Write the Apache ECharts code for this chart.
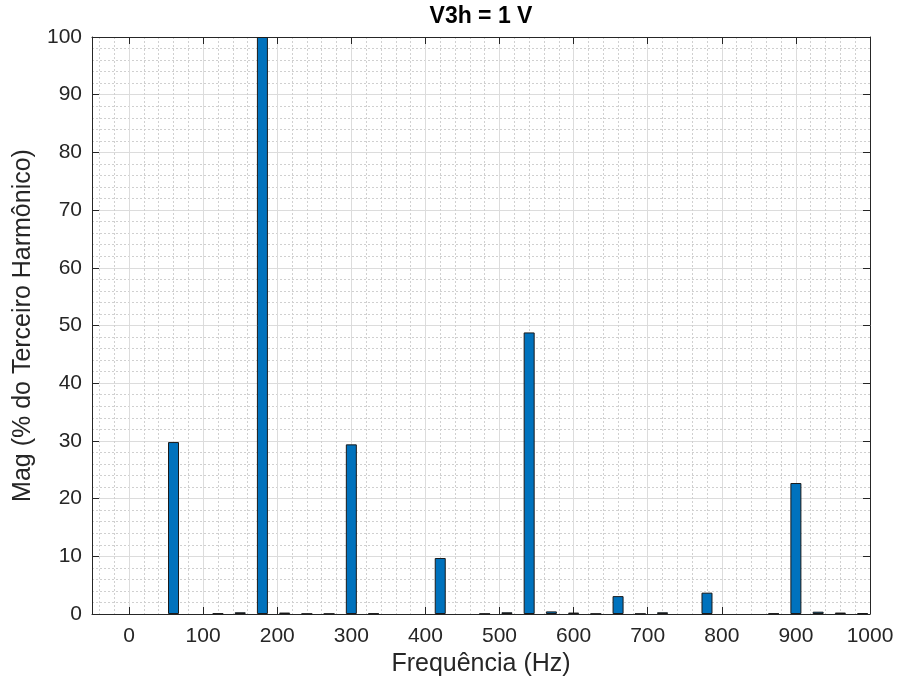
<!DOCTYPE html>
<html>
<head>
<meta charset="utf-8">
<script src="https://cdn.jsdelivr.net/npm/echarts@6/dist/echarts.min.js"></script>
<style>
html,body{margin:0;padding:0;background:#fff;}
#chart{width:900px;height:687px;}
</style>
</head>
<body>
<div id="chart"></div>
<script>
// Data
const freqs = [60, 120, 150, 180, 210, 240, 270, 300, 330, 420, 480, 510, 540, 570, 600, 630, 660, 690, 720, 780, 870, 900, 930, 960, 990];
const mags  = [29.8, 0.1, 0.3, 100, 0.25, 0.05, 0.05, 29.4, 0.1, 9.7, 0.05, 0.3, 48.8, 0.45, 0.25, 0.05, 3.1, 0.05, 0.3, 3.7, 0.1, 22.7, 0.4, 0.25, 0.15];
const xTicks = [0, 100, 200, 300, 400, 500, 600, 700, 800, 900, 1000];
const xMinorGrid = [-40, -20, 0, 20, 40, 60, 80, 100, 120, 140, 160, 180, 200, 220, 240, 260, 280, 300, 320, 340, 360, 380, 400, 420, 440, 460, 480, 500, 520, 540, 560, 580, 600, 620, 640, 660, 680, 700, 720, 740, 760, 780, 800, 820, 840, 860, 880, 900, 920, 940, 960, 980, 1000];
const titleText = 'V3h = 1 V';
const xName = 'Frequência (Hz)';
const yName = 'Mag (% do Terceiro Harmônico)';

const FONT = 'Arial, "Liberation Sans", Helvetica, sans-serif';
const TXT = '#262626';
const AX = '#262626';
const MAJOR = '#dcdcdc';
const MINOR = '#d0d0d0';

const chart = echarts.init(document.getElementById('chart'), null, {renderer: 'canvas'});
const gridL = 92, gridR = 30, gridT = 37, gridB = 73;

const option = {
  animation: false,
  backgroundColor: '#ffffff',
  textStyle: {fontFamily: FONT},
  graphic: [{
    type: 'text',
    x: gridL + (900 - gridL - gridR) / 2,
    y: 17,
    style: {
      text: titleText,
      font: 'bold 23px ' + FONT,
      fill: '#000000',
      textAlign: 'center',
      textVerticalAlign: 'middle'
    }
  }],
  grid: {left: gridL, right: gridR, top: gridT, bottom: gridB, containLabel: false},
  xAxis: [
    {
      // minor grid
      type: 'value', position: 'bottom', min: -50, max: 1000,
      axisLine: {show: false},
      axisTick: {show: false, customValues: xMinorGrid},
      axisLabel: {show: false, customValues: xMinorGrid},
      splitLine: {show: true, lineStyle: {color: MINOR, width: 1, type: [2, 2]}}
    },
    {
      // main axis
      type: 'value', position: 'bottom', min: -50, max: 1000,
      name: xName, nameLocation: 'middle', nameGap: 30,
      nameTextStyle: {fontSize: 25, color: TXT, fontFamily: FONT},
      axisLine: {show: true, onZero: false, lineStyle: {color: AX, width: 1}},
      axisTick: {show: true, inside: true, length: 7, customValues: xTicks, lineStyle: {color: AX}},
      axisLabel: {show: true, customValues: xTicks, fontSize: 21, color: TXT, margin: 12, fontFamily: FONT,
                  formatter: v => String(v)},
      splitLine: {show: true, lineStyle: {color: MAJOR, width: 1}}
    },
    {
      // top box edge
      type: 'value', position: 'top', min: -50, max: 1000,
      axisLine: {show: true, onZero: false, lineStyle: {color: AX, width: 1}},
      axisTick: {show: true, inside: true, length: 7, customValues: xTicks, lineStyle: {color: AX}},
      axisLabel: {show: false, customValues: xTicks},
      splitLine: {show: false}
    }
  ],
  yAxis: [
    {
      type: 'value', position: 'left', min: 0, max: 100, interval: 10,
      name: yName, nameLocation: 'middle', nameGap: 55, nameRotate: 90,
      nameTextStyle: {fontSize: 25, color: TXT, fontFamily: FONT},
      axisLine: {show: true, onZero: false, lineStyle: {color: AX, width: 1}},
      axisTick: {show: true, inside: true, length: 7, lineStyle: {color: AX}},
      axisLabel: {show: true, fontSize: 21, color: TXT, margin: 10, fontFamily: FONT},
      splitLine: {show: true, lineStyle: {color: MAJOR, width: 1}},
      minorTick: {show: false, splitNumber: 5},
      minorSplitLine: {show: true, lineStyle: {color: MINOR, width: 1, type: [2, 2]}}
    },
    {
      type: 'value', position: 'right', min: 0, max: 100, interval: 10,
      axisLine: {show: true, onZero: false, lineStyle: {color: AX, width: 1}},
      axisTick: {show: true, inside: true, length: 7, lineStyle: {color: AX}},
      axisLabel: {show: false},
      splitLine: {show: false}
    }
  ],
  series: [{
    type: 'bar',
    xAxisIndex: 1,
    yAxisIndex: 0,
    barWidth: 11,
    data: freqs.map((f, i) => [f, mags[i]]),
    itemStyle: {color: '#0072BD', borderColor: '#1a1a1a', borderWidth: 1},
    z: 5
  }]
};
chart.setOption(option);
</script>
</body>
</html>
